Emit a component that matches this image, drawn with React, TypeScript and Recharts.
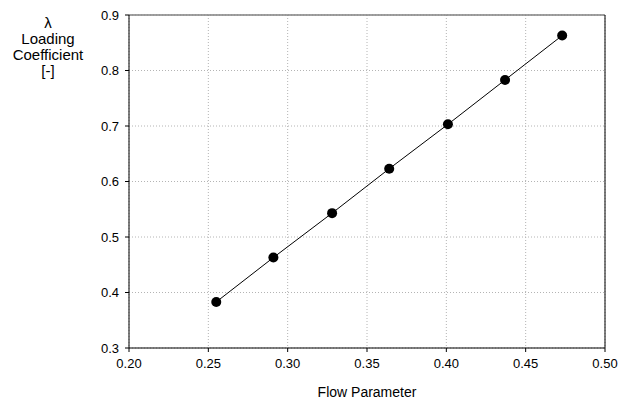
import {
  CartesianGrid,
  Label,
  Line,
  LineChart,
  ReferenceLine,
  XAxis,
  YAxis,
} from "recharts";

const flowParameter = [0.255, 0.291, 0.328, 0.364, 0.401, 0.437, 0.473];
const loadingCoefficient = [0.383, 0.463, 0.543, 0.623, 0.703, 0.783, 0.863];
const xTicks = [0.2, 0.25, 0.3, 0.35, 0.4, 0.45, 0.5];
const yTicks = [0.3, 0.4, 0.5, 0.6, 0.7, 0.8, 0.9];
const yTitleLines = ["λ", "Loading", "Coefficient", "[-]"];

const data = flowParameter.map((x, i) => ({ x, y: loadingCoefficient[i] }));

const font = "'Liberation Sans', Arial, sans-serif";
const tick = { fill: "#000", fontSize: 13, fontFamily: font } as const;

function YTitle() {
  return (
    <text
      x={48}
      y={28}
      textAnchor="middle"
      fill="#000"
      fontSize={15}
      fontFamily={font}
    >
      {yTitleLines.map((line, i) => (
        <tspan key={line} x={48} dy={i === 0 ? 0 : 16}>
          {line}
        </tspan>
      ))}
    </text>
  );
}

export default function App() {
  return (
    <div style={{ position: "absolute", left: 0, top: 0, background: "#fff" }}>
      <LineChart
        width={618}
        height={403}
        data={data}
        margin={{ top: 15, right: 13, bottom: 0, left: 0 }}
      >
        <CartesianGrid stroke="#b4b4b4" strokeDasharray="1 2" />
        <XAxis
          dataKey="x"
          type="number"
          domain={[0.2, 0.5]}
          ticks={xTicks}
          tickFormatter={(v: number) => v.toFixed(2)}
          tick={tick}
          tickSize={4}
          tickMargin={7}
          axisLine={{ stroke: "#000" }}
          tickLine={{ stroke: "#000" }}
          height={55}
        >
          <Label
            value="Flow Parameter"
            position="insideBottom"
            offset={6}
            fill="#000"
            fontSize={14}
            fontFamily={font}
          />
        </XAxis>
        <YAxis
          type="number"
          domain={[0.3, 0.9]}
          ticks={yTicks}
          tickFormatter={(v: number) => v.toFixed(1)}
          tick={tick}
          tickSize={4}
          tickMargin={6}
          axisLine={{ stroke: "#000" }}
          tickLine={{ stroke: "#000" }}
          width={129}
        >
          <Label content={<YTitle />} />
        </YAxis>
        <ReferenceLine y={0.9} stroke="#808080" strokeWidth={1.5} />
        <ReferenceLine x={0.5} stroke="#000" />
        <Line
          dataKey="y"
          stroke="#000"
          strokeWidth={1}
          dot={{ r: 5, fill: "#000", stroke: "#000", strokeWidth: 0 }}
          isAnimationActive={false}
        />
      </LineChart>
    </div>
  );
}
